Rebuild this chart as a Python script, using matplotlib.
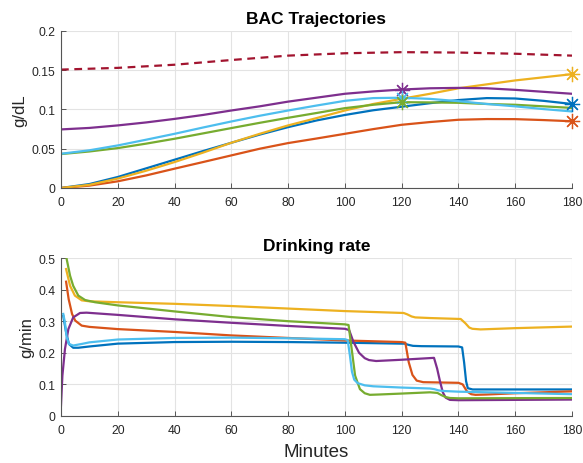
import numpy as np
import matplotlib
matplotlib.use('Agg')
import matplotlib.pyplot as plt

plt.rcParams['font.family'] = ['Liberation Sans', 'DejaVu Sans']

# MATLAB default line colours
C_BLUE = '#0072BD'
C_ORANGE = '#D95319'
C_YELLOW = '#EDB120'
C_PURPLE = '#7E2F8E'
C_GREEN = '#77AC30'
C_LBLUE = '#4DBEEE'
C_RED = '#A2142F'

# --- BAC trajectories (g/dL), sampled every 10 min ---
bac_t = [0, 10, 20, 30, 40, 50, 60, 70, 80, 90, 100, 110, 120, 130, 140, 150, 160, 170, 180]
bac_blue = [0, 0.005, 0.014, 0.025, 0.036, 0.047, 0.0576, 0.068, 0.0775, 0.086, 0.093,
            0.099, 0.1035, 0.108, 0.112, 0.1145, 0.114, 0.111, 0.107]
bac_orange = [0, 0.003, 0.0085, 0.016, 0.0246, 0.033, 0.0415, 0.050, 0.0572, 0.063, 0.069,
              0.075, 0.0805, 0.084, 0.0869, 0.0878, 0.0877, 0.0865, 0.085]
bac_yellow = [0, 0.004, 0.012, 0.022, 0.033, 0.045, 0.0576, 0.069, 0.0797, 0.089, 0.0987,
              0.107, 0.1136, 0.120, 0.127, 0.132, 0.137, 0.141, 0.145]
bac_purple = [0.0746, 0.0765, 0.0797, 0.0835, 0.088, 0.093, 0.0987, 0.104, 0.110, 0.115, 0.120,
              0.123, 0.1254, 0.127, 0.1275, 0.127, 0.125, 0.1225, 0.120]
bac_green = [0.0432, 0.0465, 0.0508, 0.0565, 0.0627, 0.0695, 0.0763, 0.083, 0.0894, 0.0955,
             0.1017, 0.106, 0.1093, 0.109, 0.1085, 0.107, 0.106, 0.104, 0.102]
bac_lblue = [0.0436, 0.048, 0.0542, 0.0615, 0.069, 0.077, 0.0847, 0.092, 0.0987, 0.105, 0.111,
             0.1145, 0.115, 0.1135, 0.1106, 0.107, 0.104, 0.1005, 0.0975]
limit_t = [0, 20, 40, 60, 80, 100, 120, 140, 160, 180]
limit_bac = [0.1508, 0.153, 0.157, 0.163, 0.1686, 0.1716, 0.173, 0.1725, 0.171, 0.1686]

# end-of-session markers (time, BAC)
mark_t = [120, 120, 120, 180, 180, 180]
mark_bac = [0.1254, 0.115, 0.1093, 0.145, 0.107, 0.085]
mark_col = [C_PURPLE, C_LBLUE, C_GREEN, C_YELLOW, C_BLUE, C_ORANGE]

# --- Drinking rate (g/min) ---
rate_t_blue = [0.8, 1.8, 2.8, 4.3, 6.1, 10, 20, 40, 60, 80, 100, 120, 121, 122.5, 124, 127,
               140, 141.3, 142, 142.7, 143.3, 145, 150, 180]
rate_blue = [0.317, 0.265, 0.228, 0.216, 0.216, 0.220, 0.229, 0.234, 0.235, 0.234, 0.232, 0.229,
             0.229, 0.225, 0.222, 0.221, 0.220, 0.217, 0.17, 0.11, 0.088, 0.084, 0.084, 0.084]

rate_t_orange = [1.8, 2.7, 3.9, 5.0, 7.3, 10, 20, 40, 60, 80, 100, 120, 121.3, 122.5, 123.8,
                 125.3, 127.6, 140, 141.5, 143, 144.5, 146, 150, 160, 180]
rate_orange = [0.425, 0.370, 0.323, 0.302, 0.286, 0.282, 0.275, 0.266, 0.255, 0.247, 0.239,
               0.234, 0.232, 0.17, 0.13, 0.112, 0.107, 0.105, 0.100, 0.078, 0.069, 0.067,
               0.068, 0.072, 0.078]

rate_t_yellow = [1.8, 3.2, 4.9, 7.3, 10, 20, 40, 60, 80, 100, 120.7, 121.9, 123.5, 124.8, 130,
                 140.8, 142.5, 143.8, 144.9, 147.8, 160, 180]
rate_yellow = [0.465, 0.412, 0.381, 0.366, 0.363, 0.360, 0.355, 0.348, 0.340, 0.332, 0.326,
               0.322, 0.315, 0.312, 0.310, 0.307, 0.293, 0.280, 0.276, 0.274, 0.278, 0.283]

rate_t_purple = [0, 0.5, 1.4, 2.6, 4.3, 6.7, 9.0, 20, 40, 60, 80, 100, 101.5, 103, 105, 107,
                 108.5, 111, 120, 131.4, 132.5, 133.5, 134.5, 135.5, 137, 140, 180]
rate_purple = [0.033, 0.128, 0.212, 0.275, 0.312, 0.326, 0.327, 0.320, 0.306, 0.295, 0.285,
               0.276, 0.272, 0.235, 0.200, 0.183, 0.177, 0.174, 0.178, 0.184, 0.150, 0.110,
               0.075, 0.058, 0.051, 0.050, 0.052]

rate_t_green = [2.0, 3.2, 4.3, 6.1, 8.5, 12, 20, 40, 60, 80, 100, 101.3, 102.4, 103.6, 105.3,
                107, 108.8, 112, 120, 130, 132.6, 134, 135.5, 137, 140, 180]
rate_green = [0.497, 0.444, 0.412, 0.381, 0.367, 0.360, 0.350, 0.331, 0.313, 0.300, 0.290,
              0.288, 0.212, 0.128, 0.085, 0.072, 0.067, 0.068, 0.071, 0.075, 0.073, 0.066,
              0.060, 0.057, 0.056, 0.057]

rate_t_lblue = [0.8, 1.4, 2.0, 2.8, 4.3, 7.3, 10, 20, 40, 60, 80, 100, 101, 101.8, 102.5,
                103.3, 104.5, 107, 110, 120, 130, 131.5, 133, 135, 140, 150, 160, 180]
rate_lblue = [0.323, 0.296, 0.249, 0.228, 0.223, 0.228, 0.233, 0.242, 0.247, 0.248, 0.246,
              0.243, 0.240, 0.19, 0.14, 0.115, 0.104, 0.097, 0.094, 0.090, 0.087, 0.085,
              0.081, 0.079, 0.077, 0.075, 0.073, 0.069]

LW = 1.6
AX_COL = '#262626'


def style_axes(ax, ylim, yticks, ylabels):
    ax.set_xlim(0, 180)
    ax.set_ylim(*ylim)
    ax.set_xticks(np.arange(0, 181, 20))
    ax.set_yticks(yticks)
    ax.set_yticklabels(ylabels)
    ax.grid(True, color='#e3e3e3', linewidth=0.8)
    ax.set_axisbelow(True)
    for s in ['top', 'right']:
        ax.spines[s].set_visible(False)
    for s in ['left', 'bottom']:
        ax.spines[s].set_color('#555555')
        ax.spines[s].set_linewidth(0.8)
    ax.tick_params(direction='in', length=3.5, width=0.7, colors='#555555',
                   labelcolor=AX_COL, labelsize=8.7)
    ax.tick_params(axis='x', pad=6)
    ax.tick_params(axis='y', pad=4)


fig = plt.figure(figsize=(5.83, 4.64), dpi=100)
ax1 = fig.add_axes([0.1046, 0.5927, 0.8765, 0.3384])
ax2 = fig.add_axes([0.1046, 0.1013, 0.8765, 0.3405])

# top panel
ax1.plot(bac_t, bac_blue, color=C_BLUE, lw=LW)
ax1.plot(bac_t, bac_orange, color=C_ORANGE, lw=LW)
ax1.plot(bac_t, bac_yellow, color=C_YELLOW, lw=LW)
ax1.plot(bac_t, bac_purple, color=C_PURPLE, lw=LW)
ax1.plot(bac_t, bac_green, color=C_GREEN, lw=LW)
ax1.plot(bac_t, bac_lblue, color=C_LBLUE, lw=LW)
ax1.plot(limit_t, limit_bac, color=C_RED, lw=LW, linestyle=(0, (3.5, 2.5)))
for mt, mb, mc in zip(mark_t, mark_bac, mark_col):
    ax1.plot(mt, mb, marker=(8, 2, 0), markersize=11, markeredgewidth=0.9,
             color=mc, clip_on=False, zorder=5)
style_axes(ax1, (0, 0.2), [0, 0.05, 0.1, 0.15, 0.2], ['0', '0.05', '0.1', '0.15', '0.2'])
ax1.set_title('BAC Trajectories', fontsize=12.5, fontweight='bold', pad=6)
ax1.set_ylabel('g/dL', fontsize=12, color=AX_COL, labelpad=3)

# bottom panel
ax2.plot(rate_t_blue, rate_blue, color=C_BLUE, lw=LW)
ax2.plot(rate_t_orange, rate_orange, color=C_ORANGE, lw=LW)
ax2.plot(rate_t_yellow, rate_yellow, color=C_YELLOW, lw=LW)
ax2.plot(rate_t_purple, rate_purple, color=C_PURPLE, lw=LW)
ax2.plot(rate_t_green, rate_green, color=C_GREEN, lw=LW)
ax2.plot(rate_t_lblue, rate_lblue, color=C_LBLUE, lw=LW)
style_axes(ax2, (0, 0.5), [0, 0.1, 0.2, 0.3, 0.4, 0.5],
           ['0', '0.1', '0.2', '0.3', '0.4', '0.5'])
ax2.set_title('Drinking rate', fontsize=12.5, fontweight='bold', pad=6)
ax2.set_ylabel('g/min', fontsize=12, color=AX_COL, labelpad=3)
ax2.set_xlabel('Minutes', fontsize=13.5, color=AX_COL, labelpad=5)

fig.savefig('out.png', dpi=100)
